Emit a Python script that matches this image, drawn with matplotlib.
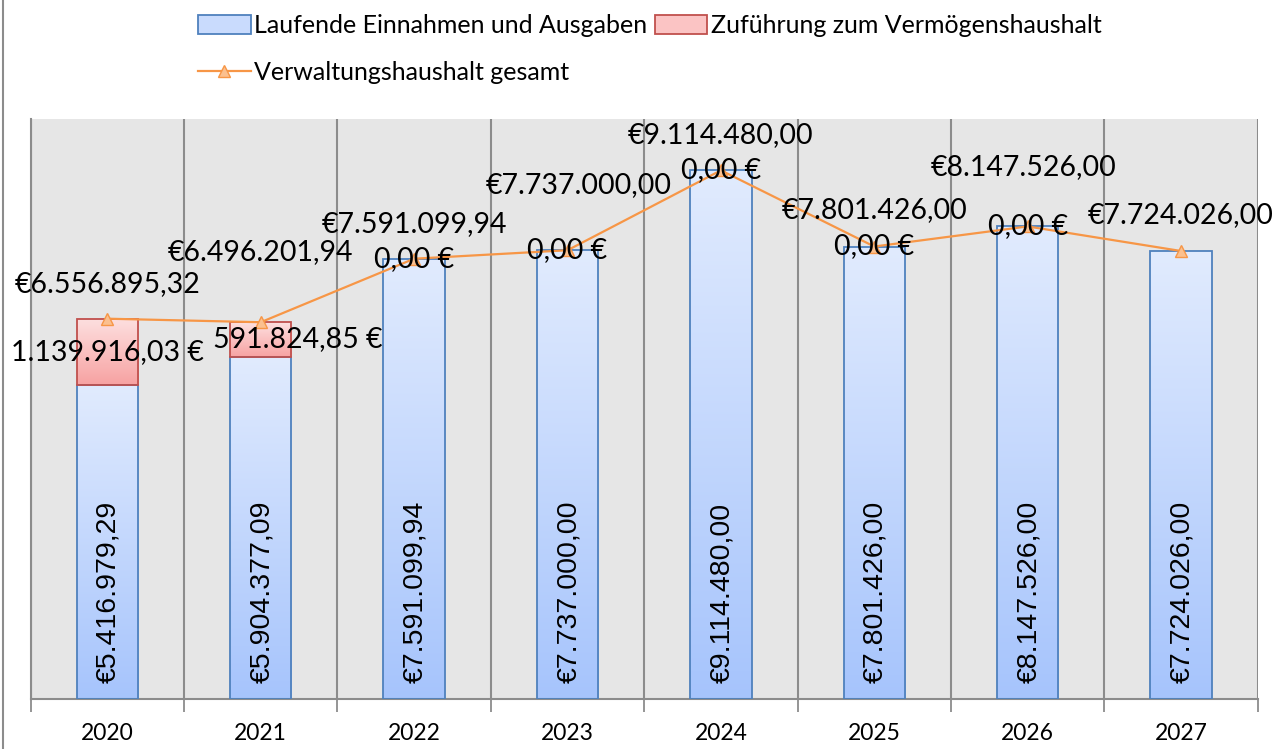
import numpy as np
import matplotlib
matplotlib.use("Agg")
import matplotlib.pyplot as plt
from matplotlib.colors import LinearSegmentedColormap
from matplotlib.patches import Patch
from matplotlib.lines import Line2D

plt.rcParams["font.family"] = ["Lato", "DejaVu Sans"]

# data
years = ["2020", "2021", "2022", "2023", "2024", "2025", "2026", "2027"]
laufend = [5416979.29, 5904377.09, 7591099.94, 7737000.00, 9114480.00, 7801426.00, 8147526.00, 7724026.00]
zufuehrung = [1139916.03, 591824.85, 0.0, 0.0, 0.0, 0.0, 0.0, None]
gesamt = [6556895.32, 6496201.94, 7591099.94, 7737000.00, 9114480.00, 7801426.00, 8147526.00, 7724026.00]

# label offsets (pixels) as placed in the original chart
line_label_off = [(0, 35), (0, 70), (0, 35), (11, 65), (0, 35), (0, 36), (-4, 59), (0, 36)]
red_label_off = [(0, 0), (37, 0), (0, 0), (0, 0), (0, 0), (0, 0), (0, 0), (0, 0)]

PX = 72 / 100  # pixels -> points at dpi 100


def de_num(v):
    s = f"{v:,.2f}"
    return s.replace(",", "X").replace(".", ",").replace("X", ".")


x = np.arange(len(years))
red = np.array([np.nan if v is None else v for v in zufuehrung])
red_h = np.nan_to_num(red)
laufend = np.array(laufend)

fig = plt.figure(figsize=(12.84, 7.49), dpi=100)
ax = fig.add_axes([30.7 / 1284, 1 - 699 / 749, (1257.7 - 30.7) / 1284, (699 - 119) / 749])
ax.set_facecolor("#e6e6e6")

blue_cmap = LinearSegmentedColormap.from_list("b", ["#a6c4fc", "#e1ebfe"])
red_cmap = LinearSegmentedColormap.from_list("r", ["#f7a2a2", "#fde0e0"])
grad = np.linspace(0, 1, 256).reshape(-1, 1)

w = 0.4
bars_b = ax.bar(x, laufend, width=w, facecolor="none", edgecolor="#4f81bd", linewidth=1.3, zorder=3)
bars_r = ax.bar(x, red_h, width=w, bottom=laufend, facecolor="none", edgecolor="#c0504d", linewidth=1.3, zorder=3)

for p in bars_b:
    ax.imshow(grad, extent=[p.get_x(), p.get_x() + p.get_width(), p.get_y(), p.get_y() + p.get_height()],
              origin="lower", aspect="auto", cmap=blue_cmap, zorder=2)
for p in bars_r:
    if p.get_height() <= 0:
        p.set_visible(False)
        continue
    ax.imshow(grad, extent=[p.get_x(), p.get_x() + p.get_width(), p.get_y(), p.get_y() + p.get_height()],
              origin="lower", aspect="auto", cmap=red_cmap, zorder=2)

ax.plot(x, gesamt, color="#f79646", linewidth=1.6, marker="^", markersize=9,
        markerfacecolor="#fbc08f", markeredgecolor="#f79646", zorder=5)

ax.set_xlim(-0.5, len(years) - 0.5)
ax.set_ylim(0, 10_000_000)

# vertical grid at category boundaries
ax.set_xticks(x)
ax.set_xticklabels(years, fontsize=16.5)
ax.set_xticks(np.arange(-0.5, len(years)), minor=True)
ax.tick_params(axis="x", which="major", length=0, pad=17)
ax.tick_params(axis="x", which="minor", length=9, width=1.3, color="#8c8c8c")
ax.grid(axis="x", which="minor", color="#8c8c8c", linewidth=1.5, zorder=1)
ax.set_axisbelow(True)
ax.set_yticks([])
for s in ["top", "right"]:
    ax.spines[s].set_visible(False)
ax.spines["left"].set_color("#8c8c8c")
ax.spines["left"].set_linewidth(1.5)
ax.spines["bottom"].set_color("#8c8c8c")
ax.spines["bottom"].set_linewidth(1.5)

# blue labels, rotated, near the bar base
for i, v in enumerate(laufend):
    ax.annotate("€" + de_num(v), (x[i], 0), xytext=(1, 16 * PX), textcoords="offset points",
                ha="center", va="bottom", rotation=90, fontsize=20.5,
                family=["Liberation Sans", "DejaVu Sans"], zorder=6)

# red labels
for i, v in enumerate(red):
    if np.isnan(v):
        continue
    dx, dy = red_label_off[i]
    ax.annotate(de_num(v) + " €", (x[i], laufend[i] + v / 2), xytext=(dx * PX, dy * PX),
                textcoords="offset points", ha="center", va="center", fontsize=20.5, zorder=6)

# line labels
for i, v in enumerate(gesamt):
    dx, dy = line_label_off[i]
    ax.annotate("€" + de_num(v), (x[i], v), xytext=(dx * PX, dy * PX),
                textcoords="offset points", ha="center", va="center", fontsize=20.5, zorder=6,
                annotation_clip=False)

h_a = Patch(facecolor="#c9dbfd", edgecolor="#4f81bd", linewidth=1.3)
h_b = Patch(facecolor="#fbc4c4", edgecolor="#c0504d", linewidth=1.3)
h_c = Line2D([0], [0], color="#f79646", linewidth=1.6, marker="^", markersize=8,
             markerfacecolor="#fbc08f", markeredgecolor="#f79646")
fig.legend([h_a, h_c, h_b],
           ["Laufende Einnahmen und Ausgaben", "Verwaltungshaushalt gesamt", "Zuführung zum Vermögenshaushalt"],
           ncol=2, loc="upper left", bbox_to_anchor=(198 / 1284, 1 - 14 / 749), frameon=False,
           fontsize=18, handlelength=2.1, handleheight=0.8, handletextpad=0.15,
           columnspacing=0.3, labelspacing=0.95, borderpad=0, borderaxespad=0)

# left border of the chart frame
fig.add_artist(Line2D([2.5 / 1284, 2.5 / 1284], [0, 1], transform=fig.transFigure, color="#8c8c8c", linewidth=1.5))

fig.savefig("out.png", dpi=100)
